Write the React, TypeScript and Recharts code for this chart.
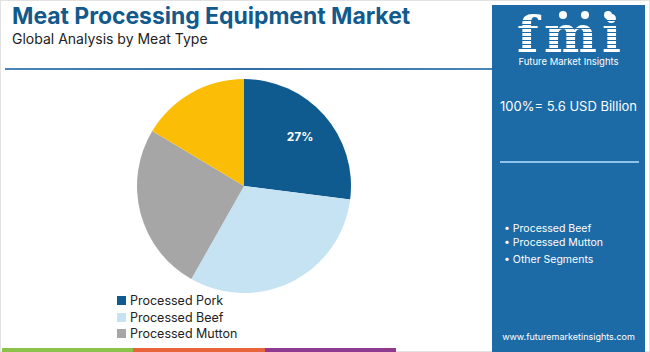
import React from "react";
import { PieChart, Pie, Cell, Legend } from "recharts";

const segments = ["Processed Pork", "Processed Beef", "Processed Mutton", "Other Segments"];
const shares = [27, 31.2, 25.4, 16.4];
const colors = ["#0f5a8f", "#c5e3f3", "#a6a6a6", "#fbbd05"];
const legendNames = ["Processed Pork", "Processed Beef", "Processed Mutton"];
const panelBullets = ["Processed Beef", "Processed Mutton", "Other Segments"];
const title = "Meat Processing Equipment Market";
const subtitle = "Global Analysis by Meat Type";
const totalLabel = "100%= 5.6 USD Billion";
const website = "www.futuremarketinsights.com";
const bottomColors = ["#8bc34a", "#e8643a", "#8e3a8e"];

const data = segments.map((name, i) => ({ name, value: shares[i] }));

const fontCss = `@font-face { font-family: 'LogoSerif'; src: local('DejaVu Serif Bold'), local('DejaVuSerif-Bold'); font-weight: 700; ascent-override: 80%; descent-override: 0%; line-gap-override: 0%; }`;

const RADIAN = Math.PI / 180;
const renderLabel = (props: any) => {
  const { cx, cy, midAngle, outerRadius, index, percent } = props;
  if (index !== 0) return null;
  const r = outerRadius * 0.7;
  const x = cx + r * Math.cos(-midAngle * RADIAN);
  const y = cy + r * Math.sin(-midAngle * RADIAN);
  return (
    <text x={x} y={y} fill="#ffffff" fontFamily="Inter, sans-serif" fontWeight={700} fontSize={12} textAnchor="middle" dominantBaseline="central">
      {`${Math.round(percent * 100)}%`}
    </text>
  );
};

const renderLegend = () => (
  <div style={{ fontFamily: "Inter, sans-serif", fontSize: 12.5, color: "#222" }}>
    {legendNames.map((n, i) => (
      <div key={n} style={{ display: "flex", alignItems: "center", height: 16.7 }}>
        <span style={{ display: "inline-block", width: 9, height: 9, background: colors[i], marginRight: 4 }} />
        <span>{n}</span>
      </div>
    ))}
  </div>
);

export default function App() {
  return (
    <div style={{ position: "absolute", left: 0, top: 0, width: 650, height: 352, background: "#fff", overflow: "hidden", fontFamily: "Inter, sans-serif" }}>
      <style>{fontCss}</style>
      <div style={{ position: "absolute", left: 0, top: 0, width: 648, height: 350, border: "1px solid #e2e2e2" }} />
      <div style={{ position: "absolute", left: 12, top: 2, fontSize: 23, fontWeight: 700, color: "#135a8c", whiteSpace: "nowrap", letterSpacing: -0.05 }}>{title}</div>
      <div style={{ position: "absolute", left: 12, top: 30, fontSize: 14, color: "#222", whiteSpace: "nowrap" }}>{subtitle}</div>
      <div style={{ position: "absolute", left: 5, top: 68, width: 487, height: 2, background: "linear-gradient(90deg, #4a86b8, #2f6fa6 50%, #4a86b8)" }} />
      <div style={{ position: "absolute", left: 0, top: 0 }}>
        <PieChart width={492} height={352} margin={{ top: 0, right: 0, bottom: 0, left: 0 }}>
          <Pie
            data={data}
            dataKey="value"
            nameKey="name"
            cx={244}
            cy={186}
            outerRadius={107}
            startAngle={90}
            endAngle={-270}
            stroke="none"
            label={renderLabel}
            labelLine={false}
            isAnimationActive={false}
          >
            {data.map((d, i) => (
              <Cell key={d.name} fill={colors[i]} />
            ))}
          </Pie>
          <Legend content={renderLegend} layout="vertical" wrapperStyle={{ left: 117, top: 292, width: 200 }} />
        </PieChart>
      </div>
      {bottomColors.map((c, i) => (
        <div key={c} style={{ position: "absolute", left: 2 + i * 131.3, top: 348, width: 131.3, height: 4, background: c }} />
      ))}
      <div style={{ position: "absolute", left: 492, top: 5, width: 153, height: 347, background: "#1c6aa6" }}>
        <div style={{ position: "absolute", left: 0, width: 153, top: 7, lineHeight: "normal", textAlign: "center", fontFamily: "LogoSerif, 'DejaVu Serif', serif", fontWeight: 700, fontSize: 50, color: "#fff", letterSpacing: 5, textIndent: 5 }}>fmi</div>
        {Array.from({ length: 9 }).map((_, i) => (
          <div key={i} style={{ position: "absolute", left: 18, width: 118, top: 15 + i * 4, height: 1, background: "#1c6aa6" }} />
        ))}
        {[71, 93, 116].map((x) => (
          <div key={x} style={{ position: "absolute", left: x - 4, top: 6, width: 8, height: 8, borderRadius: 4, background: "#fff" }} />
        ))}
        <div style={{ position: "absolute", left: 0, width: 153, top: 51, lineHeight: "12px", textAlign: "center", fontSize: 9.5, color: "#fff" }}>Future Market Insights</div>
        <div style={{ position: "absolute", left: 0, width: 153, top: 93, textAlign: "center", fontSize: 13, color: "#fff", whiteSpace: "nowrap" }}>{totalLabel}</div>
        <div style={{ position: "absolute", left: 8, width: 139, top: 156, height: 2, background: "#8cc4ea" }} />
        <div style={{ position: "absolute", left: 12, top: 217, fontSize: 10.5, color: "#fff", lineHeight: "14px" }}>
          {panelBullets.map((b, i) => (
            <div key={b} style={{ marginTop: i === 2 ? 3 : 0 }}>{"\u2022 " + b}</div>
          ))}
        </div>
        <div style={{ position: "absolute", left: 0, width: 153, top: 326, textAlign: "center", fontSize: 9, color: "#fff" }}>{website}</div>
      </div>
    </div>
  );
}
